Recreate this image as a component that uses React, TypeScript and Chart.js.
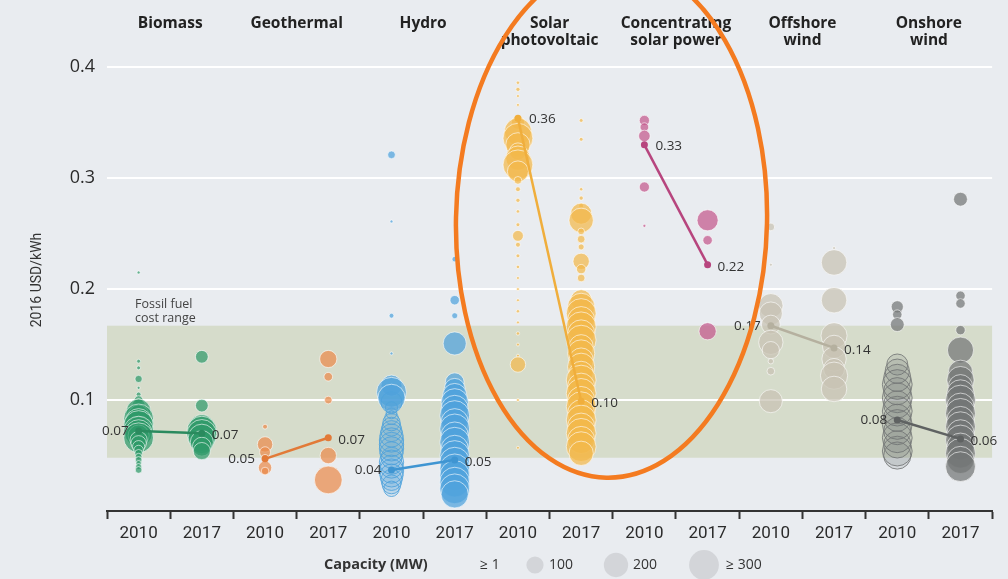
import React, { useEffect, useRef } from 'react';
import { Chart, registerables } from 'chart.js';

Chart.register(...registerables);

// ---------- DATA ----------
const technologies = ['Biomass', 'Geothermal', 'Hydro', 'Solar\nphotovoltaic', 'Concentrating\nsolar power', 'Offshore\nwind', 'Onshore\nwind'];
const years = ['2010', '2017'];
const yTicks = [0.1, 0.2, 0.3, 0.4];

// weighted averages (2016 USD/kWh)
const avg2010 = [0.072, 0.047, 0.037, 0.354, 0.33, 0.167, 0.082];
const avg2017 = [0.070, 0.066, 0.046, 0.099, 0.222, 0.147, 0.065];
const avgLabels2010 = ['0.07', '0.05', '0.04', '0.36', '0.33', '0.17', '0.08'];
const avgLabels2017 = ['0.07', '0.07', '0.05', '0.10', '0.22', '0.14', '0.06'];

const fossilRange = [0.048, 0.167];
const fossilLabel = ['Fossil fuel', 'cost range'];

const legendTitle = 'Capacity (MW)';
const legendCapacities = [1, 100, 200, 300];
const legendLabels = ['\u2265 1', '100', '200', '\u2265 300'];

// project bubbles: [LCOE USD/kWh, capacity MW]
const biomass2010 = [[0.215, 1], [0.135, 5], [0.129, 5], [0.119, 18], [0.111, 2], [0.105, 8], [0.1, 25], [0.095, 60], [0.09, 200], [0.086, 150], [0.083, 300], [0.08, 250], [0.077, 300], [0.074, 200], [0.072, 300], [0.07, 250], [0.068, 150], [0.066, 300], [0.064, 100], [0.061, 80], [0.058, 50], [0.055, 30], [0.052, 20], [0.049, 15], [0.046, 15], [0.043, 10], [0.04, 12], [0.037, 15]];
const biomass2017 = [[0.139, 55], [0.095, 55], [0.076, 200], [0.072, 300], [0.069, 300], [0.066, 250], [0.062, 180], [0.058, 120], [0.054, 100]];
const geothermal2010 = [[0.076, 8], [0.06, 80], [0.053, 40], [0.048, 15], [0.039, 60], [0.036, 20]];
const geothermal2017 = [[0.137, 100], [0.121, 25], [0.1, 20], [0.05, 90], [0.028, 260]];
const hydro2010 = [[0.321, 20], [0.261, 1], [0.176, 8], [0.142, 2], [0.113, 150], [0.107, 300], [0.102, 250], [0.098, 150], [0.093, 50], [0.088, 40], [0.084, 60], [0.08, 100], [0.076, 120], [0.072, 150], [0.068, 180], [0.064, 200], [0.06, 200], [0.056, 200], [0.052, 180], [0.048, 150], [0.044, 200], [0.04, 180], [0.036, 200], [0.032, 180], [0.028, 150], [0.024, 120], [0.02, 80]];
const hydro2017 = [[0.227, 10], [0.19, 30], [0.176, 12], [0.151, 180], [0.116, 120], [0.11, 150], [0.104, 200], [0.098, 250], [0.092, 250], [0.086, 300], [0.08, 250], [0.074, 300], [0.068, 250], [0.062, 300], [0.056, 250], [0.05, 300], [0.044, 300], [0.038, 300], [0.032, 300], [0.026, 300], [0.02, 300], [0.015, 250]];
const solar2010 = [[0.386, 4], [0.38, 6], [0.374, 3], [0.366, 3], [0.35, 60], [0.342, 250], [0.336, 300], [0.33, 200], [0.324, 100], [0.318, 200], [0.312, 300], [0.306, 150], [0.298, 20], [0.29, 8], [0.28, 6], [0.27, 4], [0.258, 5], [0.248, 40], [0.24, 8], [0.23, 5], [0.22, 4], [0.21, 3], [0.2, 3], [0.19, 3], [0.18, 4], [0.17, 3], [0.16, 4], [0.15, 3], [0.14, 3], [0.132, 80], [0.1, 2], [0.057, 2]];
const solar2017 = [[0.352, 5], [0.335, 5], [0.29, 4], [0.282, 6], [0.275, 8], [0.268, 150], [0.262, 200], [0.252, 15], [0.245, 20], [0.238, 12], [0.225, 90], [0.218, 30], [0.21, 20], [0.19, 150], [0.184, 250], [0.178, 300], [0.172, 250], [0.166, 300], [0.16, 250], [0.154, 300], [0.148, 200], [0.142, 250], [0.136, 200], [0.13, 250], [0.124, 200], [0.118, 300], [0.112, 250], [0.106, 300], [0.1, 250], [0.094, 300], [0.088, 250], [0.082, 300], [0.076, 250], [0.07, 300], [0.064, 250], [0.058, 300], [0.052, 200]];
const csp2010 = [[0.352, 35], [0.346, 25], [0.338, 45], [0.292, 35], [0.257, 2]];
const csp2017 = [[0.262, 150], [0.244, 30], [0.162, 100]];
const offshore2010 = [[0.256, 20], [0.222, 2], [0.185, 200], [0.178, 180], [0.168, 120], [0.152, 200], [0.145, 100], [0.135, 10], [0.126, 20], [0.099, 180]];
const offshore2017 = [[0.237, 2], [0.224, 220], [0.19, 220], [0.158, 230], [0.148, 180], [0.137, 200], [0.128, 150], [0.122, 250], [0.11, 220]];
const onshore2010 = [[0.184, 50], [0.177, 30], [0.168, 65], [0.132, 150], [0.126, 200], [0.12, 250], [0.114, 300], [0.108, 250], [0.102, 300], [0.096, 250], [0.09, 300], [0.084, 250], [0.078, 300], [0.072, 250], [0.066, 300], [0.06, 250], [0.054, 300], [0.05, 250]];
const onshore2017 = [[0.281, 65], [0.194, 30], [0.187, 30], [0.163, 30], [0.145, 230], [0.125, 200], [0.118, 250], [0.112, 200], [0.106, 250], [0.1, 300], [0.094, 250], [0.088, 300], [0.082, 250], [0.076, 300], [0.07, 250], [0.064, 300], [0.058, 250], [0.052, 300], [0.046, 250], [0.04, 300]];

const columns = [biomass2010, biomass2017, geothermal2010, geothermal2017, hydro2010, hydro2017, solar2010, solar2017, csp2010, csp2017, offshore2010, offshore2017, onshore2010, onshore2017];

// ---------- STYLE ----------
const techColors = ['#2f9a6a', '#ea8a4b', '#4fa2dc', '#f2b84b', '#c4588c', '#c8c2b3', '#737676'];
const lineColors = ['#2a8a5e', '#e27a38', '#3f95d2', '#f0ae3c', '#b7457e', '#b5b09f', '#5f6262'];
// columns drawn as pale rings below a threshold value
const paleBelow: Record<number, number> = { 4: 0.1, 12: 0.14 };
const label2010Side = ['left', 'left', 'left', 'right', 'right', 'left', 'left'];
const FONT = "'Open Sans', 'DejaVu Sans', sans-serif";
const NARROW = "'Liberation Sans Narrow', 'Roboto', sans-serif";

const radius = (mw: number) => Math.max(1.5, 0.86 * Math.sqrt(mw));
const rgba = (hex: string, a: number) => {
  const n = parseInt(hex.slice(1), 16);
  return `rgba(${(n >> 16) & 255},${(n >> 8) & 255},${n & 255},${a})`;
};

const decorPlugin = {
  id: 'decor',
  beforeDraw(chart: any) {
    const { ctx, chartArea, scales } = chart;
    ctx.save();
    ctx.fillStyle = '#e9ecf0';
    ctx.fillRect(0, 0, chart.width, chart.height);
    const yTop = scales.y.getPixelForValue(fossilRange[1]);
    const yBot = scales.y.getPixelForValue(fossilRange[0]);
    ctx.fillStyle = '#d6dccb';
    ctx.fillRect(chartArea.left, yTop, chartArea.right - chartArea.left, yBot - yTop);
    ctx.fillStyle = '#444';
    ctx.font = `12.5px ${FONT}`;
    ctx.textAlign = 'left';
    ctx.textBaseline = 'middle';
    ctx.fillText(fossilLabel[0], chartArea.left + 28, yTop - 21);
    ctx.fillText(fossilLabel[1], chartArea.left + 28, yTop - 7);
    ctx.restore();
  },
  afterDatasetsDraw(chart: any) {
    const { ctx } = chart;
    ctx.save();
    ctx.font = `13.5px ${FONT}`;
    ctx.fillStyle = '#333';
    ctx.textBaseline = 'middle';
    technologies.forEach((_, i) => {
      const meta = chart.getDatasetMeta(columns.length + i);
      const p0 = meta.data[0];
      const p1 = meta.data[1];
      if (label2010Side[i] === 'left') {
        ctx.textAlign = 'right';
        ctx.fillText(avgLabels2010[i], p0.x - 10, p0.y);
      } else {
        ctx.textAlign = 'left';
        ctx.fillText(avgLabels2010[i], p0.x + 11, p0.y + 1);
      }
      ctx.textAlign = 'left';
      ctx.fillText(avgLabels2017[i], p1.x + 10, p1.y + 2);
    });
    ctx.restore();
  },
  afterDraw(chart: any) {
    const { ctx, scales } = chart;
    const xs = scales.x;
    const ys = scales.y;
    ctx.save();
    // headers
    ctx.fillStyle = '#222';
    ctx.font = `bold 15.5px ${FONT}`;
    ctx.textAlign = 'center';
    ctx.textBaseline = 'middle';
    technologies.forEach((t, i) => {
      const cx = xs.getPixelForValue(2 * i + 0.5);
      t.split('\n').forEach((line, k) => ctx.fillText(line, cx, 24 + k * 17));
    });
    // y title
    ctx.save();
    ctx.translate(37, 280);
    ctx.rotate(-Math.PI / 2);
    ctx.font = `14px ${NARROW}`;
    ctx.fillStyle = '#333';
    ctx.fillText('2016 USD/kWh', 0, 0);
    ctx.restore();
    // legend
    const ly = 565;
    ctx.textBaseline = 'middle';
    ctx.textAlign = 'left';
    ctx.font = `bold 14.5px ${FONT}`;
    ctx.fillStyle = '#333';
    ctx.fillText(legendTitle, 324, ly);
    const circleX = [0, 535, 616, 704];
    const textX = [480, 549, 633, 726];
    ctx.font = `14px ${FONT}`;
    legendCapacities.forEach((c, k) => {
      if (k > 0) {
        ctx.beginPath();
        ctx.fillStyle = '#d3d5d9';
        ctx.arc(circleX[k], ly, radius(c), 0, Math.PI * 2);
        ctx.fill();
      }
      ctx.fillStyle = '#333';
      ctx.fillText(legendLabels[k], textX[k], ly);
    });
    // highlight ellipse around solar PV
    const cx = xs.getPixelForValue(7.48);
    const cy = ys.getPixelForValue(0.262);
    const rx = xs.getPixelForValue(2.46) - xs.getPixelForValue(0);
    const ry = ys.getPixelForValue(0) - ys.getPixelForValue(0.232);
    ctx.beginPath();
    ctx.ellipse(cx, cy, rx, ry, 0.02, 0, Math.PI * 2);
    ctx.strokeStyle = '#f47b20';
    ctx.lineWidth = 4.5;
    ctx.stroke();
    ctx.restore();
  },
};

export default function App() {
  const ref = useRef<HTMLCanvasElement | null>(null);
  useEffect(() => {
    if (!ref.current) return;
    const bubbleDatasets = columns.map((col, idx) => {
      const tech = Math.floor(idx / 2);
      const color = techColors[tech];
      const threshold = paleBelow[idx];
      const isPale = (c: any) => threshold !== undefined && c.raw && c.raw.y < threshold;
      return {
        type: 'bubble' as const,
        data: col.map(([v, mw]) => ({ x: idx, y: v, r: radius(mw) })),
        backgroundColor: (c: any) => (isPale(c) ? rgba(color, 0.16) : rgba(color, 0.72)),
        borderColor: (c: any) => (isPale(c) ? rgba(color, 0.85) : 'rgba(255,255,255,0.6)'),
        borderWidth: 1,
        order: 1,
        clip: false as any,
      };
    });
    const lineDatasets = technologies.map((_, i) => ({
      type: 'line' as const,
      data: [{ x: 2 * i, y: avg2010[i] }, { x: 2 * i + 1, y: avg2017[i] }],
      borderColor: lineColors[i],
      backgroundColor: lineColors[i],
      borderWidth: 2.5,
      pointRadius: 3.5,
      pointBorderWidth: 0,
      order: 0,
      clip: false as any,
    }));
    const chart = new Chart(ref.current, {
      type: 'bubble',
      data: { datasets: [...bubbleDatasets, ...lineDatasets] as any },
      plugins: [decorPlugin],
      options: {
        animation: false,
        responsive: true,
        maintainAspectRatio: false,
        layout: { padding: { top: 16, right: 15, left: 0, bottom: 0 } },
        plugins: { legend: { display: false }, tooltip: { enabled: false } },
        scales: {
          x: {
            type: 'linear',
            min: -0.5,
            max: 13.5,
            afterBuildTicks: (s: any) => {
              s.ticks = Array.from({ length: 29 }, (_, k) => ({ value: -0.5 + k * 0.5 }));
            },
            afterFit: (s: any) => {
              s.height = 68;
            },
            ticks: {
              autoSkip: false,
              maxRotation: 0,
              minRotation: 0,
              padding: 5,
              color: '#2b2b2b',
              font: { family: NARROW, size: 17 },
              callback: (v: any) => (Number.isInteger(v) ? years[v % 2] : ''),
            },
            grid: {
              drawOnChartArea: false,
              tickLength: 8,
              tickWidth: 2,
              tickColor: (c: any) => (Number.isInteger(c.tick.value) ? 'rgba(0,0,0,0)' : '#333'),
            },
            border: { display: true, color: '#333', width: 2 },
          },
          y: {
            type: 'linear',
            min: 0,
            max: 0.44,
            afterBuildTicks: (s: any) => {
              s.ticks = yTicks.map((v) => ({ value: v }));
            },
            afterFit: (s: any) => {
              s.width = 107;
            },
            ticks: {
              padding: 12,
              color: '#2b2b2b',
              font: { family: FONT, size: 18 },
              callback: (v: any) => Number(v).toFixed(1),
            },
            grid: { color: '#ffffff', lineWidth: 2, drawTicks: false },
            border: { display: false },
          },
        },
      } as any,
    });
    return () => chart.destroy();
  }, []);
  return (
    <div style={{ position: 'fixed', left: 0, top: 0, width: 1008, height: 579 }}>
      <canvas ref={ref} />
    </div>
  );
}
